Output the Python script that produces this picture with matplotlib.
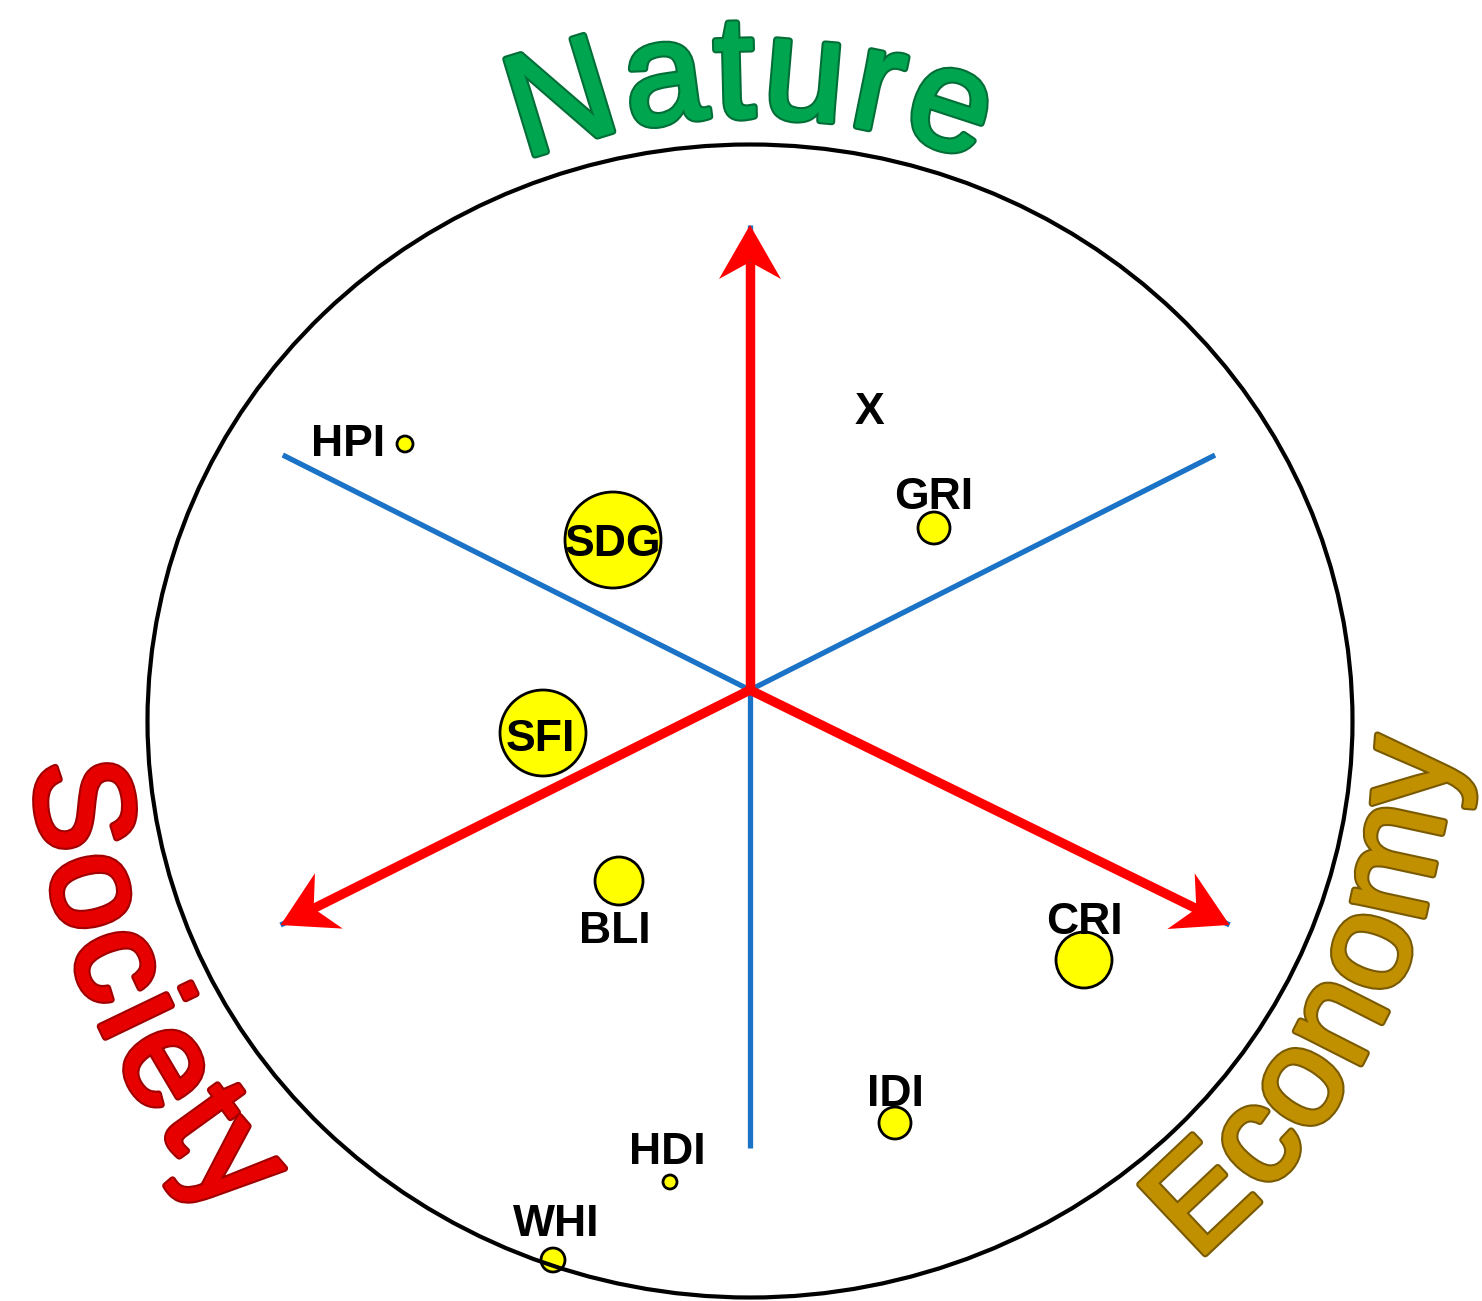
import numpy as np
import matplotlib
matplotlib.use('Agg')
import matplotlib.pyplot as plt
from matplotlib.patches import Ellipse, Circle, Polygon
from matplotlib.font_manager import FontProperties
from matplotlib.textpath import TextToPath
import matplotlib.patheffects as pe

# indices placed on the three-pillar map (star centre = 0, 0)
labels = ['HPI', 'SDG', 'SFI', 'GRI', 'X', 'BLI', 'CRI', 'IDI', 'HDI', 'WHI']
pos_x = [-345, -137, -207, 184, 119, -131, 334, 145, -80, -197]
pos_y = [246, 150, -43, 162, 282, -191, -270, -433, -492, -570]
bubble = [8, 48, 43, 16, 0, 24, 28, 16, 7, 12]

# where each label sits relative to its bubble (dx, dy)
label_dx = [-57, 0, -3, 0, 0, -4, 0, 0, -3, 3]
label_dy = [4, 0, -2, 35, 0, -46, 42, 33, 34, 40]

# the three pillars
pillars = ['Nature', 'Society', 'Economy']
pillar_colors = ['#00A550', '#E60000', '#C09000']
pillar_dark = ['#006E36', '#A00000', '#7A5A00']
pillar_angle = [90, 203.5, 334.0]

DPI = 100
fig = plt.figure(figsize=(14.82, 13.01), dpi=DPI)
ax = fig.add_axes([0, 0, 1, 1])
ax.set_xlim(-750, 732)
ax.set_ylim(-611, 690)
ax.axis('off')

# blue separators between the pillars
blue_ang = [153.3, 26.8, 270, 206.6, 333.9, 90]
blue_len = [523, 521, 458, 525, 534, 465]
for a, l in zip(blue_ang, blue_len):
    r = np.radians(a)
    ax.plot([0, l * np.cos(r)], [0, l * np.sin(r)], color='#1A73C6', lw=3.8,
            solid_capstyle='butt', zorder=2)

# red pillar arrows
red_ang = [90, 206.6, 333.9]
red_len = [465, 525, 534]
for a, l in zip(red_ang, red_len):
    r = np.radians(a)
    u = np.array([np.cos(r), np.sin(r)])
    v = np.array([-u[1], u[0]])
    tip = l * u
    notch = tip - 37 * u
    ax.plot([0, notch[0]], [0, notch[1]], color='#FF0000', lw=6.8,
            solid_capstyle='butt', zorder=3)
    head = [tip, tip - 54 * u + 31 * v, notch, tip - 54 * u - 31 * v]
    ax.add_patch(Polygon(head, closed=True, fc='#FF0000', ec='none', zorder=3))

# outer circle
ax.add_patch(Ellipse((0, -31), 1205, 1153, fill=False, ec='black', lw=3, zorder=5))

# bubbles and labels
for lab, x, y, b, dx, dy in zip(labels, pos_x, pos_y, bubble, label_dx, label_dy):
    if b > 0:
        ax.add_patch(Circle((x, y), b, fc='#FFFF00', ec='black', lw=2, zorder=4))
    ax.text(x + dx, y + dy - 16, lab, ha='center', va='baseline',
            fontsize=32, fontweight='bold', family='Liberation Sans', zorder=6)

# curved pillar names
t2p = TextToPath()


def arc_text(word, angle, radius, size, color, dark, outward, tracking=0.0, cy=-31):
    prop = FontProperties(family='Liberation Sans', size=size)
    k = DPI / 72.0
    w = [0.0] + [t2p.get_text_width_height_descent(word[:i], prop, ismath=False)[0] * k
                 for i in range(1, len(word) + 1)]
    total = w[-1] + tracking * (len(word) - 1)
    for i, ch in enumerate(word):
        s = (w[i] + w[i + 1]) / 2 + tracking * i - total / 2
        if outward:
            th = np.radians(angle) - s / radius
            rot = np.degrees(th) - 90
        else:
            th = np.radians(angle) + s / radius
            rot = np.degrees(th) + 90
        ax.text(radius * np.cos(th), cy + radius * np.sin(th), ch, rotation=rot,
                rotation_mode='anchor', ha='center', va='baseline', fontsize=size,
                family='Liberation Sans', color=color, zorder=6,
                path_effects=[pe.withStroke(linewidth=5, foreground=dark),
                              pe.withStroke(linewidth=2, foreground=color)])


arc_text(pillars[0], pillar_angle[0], 604, 105, pillar_colors[0], pillar_dark[0], True, tracking=5)
arc_text(pillars[1], pillar_angle[1], 718, 100, pillar_colors[1], pillar_dark[1], False, tracking=8)
arc_text(pillars[2], pillar_angle[2], 700, 100, pillar_colors[2], pillar_dark[2], False, tracking=3)

fig.savefig('out.png', dpi=DPI)
